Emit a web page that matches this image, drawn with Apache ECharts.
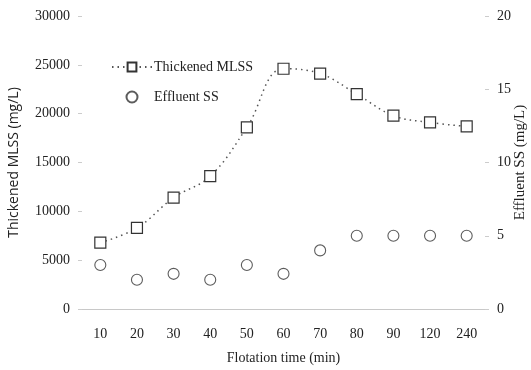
<!DOCTYPE html>
<html>
<head>
<meta charset="utf-8">
<script src="https://cdn.jsdelivr.net/npm/echarts@6/dist/echarts.min.js"></script>
<style>
  html, body { margin: 0; padding: 0; background: #fff; }
  #chart { width: 531px; height: 370px; }
</style>
</head>
<body>
<div id="chart"></div>
<script>
const times = ['10', '20', '30', '40', '50', '60', '70', '80', '90', '120', '240'];
const thickenedMLSS = [6800, 8300, 11400, 13600, 18600, 24600, 24100, 22000, 19800, 19100, 18700];
const effluentSS = [3, 2, 2.4, 2, 3, 2.4, 4, 5, 5, 5, 5];

const serif = 'Liberation Serif';
const chart = echarts.init(document.getElementById('chart'));
chart.setOption({
  backgroundColor: '#fff',
  animation: false,
  textStyle: { fontFamily: serif, color: '#222' },
  grid: { left: 82, right: 46, top: 16, bottom: 61, containLabel: false, outerBoundsMode: 'none' },
  legend: {
    orient: 'vertical', left: 106, top: 55, itemWidth: 40, itemHeight: 11, itemGap: 16,
    textStyle: { fontFamily: serif, fontSize: 14, color: '#222', padding: [0, 0, 0, -3] },
    data: ['Thickened MLSS', 'Effluent SS']
  },
  xAxis: {
    type: 'category', data: times,
    name: 'Flotation time (min)', nameLocation: 'middle', nameGap: 42,
    nameTextStyle: { fontFamily: serif, fontSize: 14, color: '#222' },
    axisLine: { lineStyle: { color: '#c8c8c8', width: 1 } },
    axisTick: { show: false },
    axisLabel: { fontFamily: serif, fontSize: 14, color: '#222', margin: 18 }
  },
  yAxis: [
    {
      type: 'value', min: 0, max: 30000, interval: 5000,
      name: 'Thickened MLSS (mg/L)', nameLocation: 'middle', nameGap: 61,
      nameMoveOverlap: false,
      nameTextStyle: { fontFamily: 'Open Sans', fontSize: 14, color: '#222' },
      axisLine: { show: false },
      axisTick: { show: true, length: 4, lineStyle: { color: '#ccc' } },
      splitLine: { show: false },
      axisLabel: { fontFamily: serif, fontSize: 14, color: '#222', margin: 12, formatter: v => String(v) }
    },
    {
      type: 'value', min: 0, max: 20, interval: 5,
      name: 'Effluent SS (mg/L)', nameLocation: 'middle', nameGap: 28, nameRotate: 90,
      nameMoveOverlap: false,
      nameTextStyle: { fontFamily: serif, fontSize: 15, color: '#222' },
      axisLine: { show: false },
      axisTick: { show: true, length: 4, lineStyle: { color: '#ccc' } },
      splitLine: { show: false },
      axisLabel: { fontFamily: serif, fontSize: 14, color: '#222', margin: 12 }
    }
  ],
  series: [
    {
      name: 'Thickened MLSS', type: 'line', yAxisIndex: 0, data: thickenedMLSS,
      smooth: 0.4, symbol: 'rect', symbolSize: 11,
      lineStyle: { color: '#555', width: 1.5, type: [1.5, 4] },
      itemStyle: { color: '#fff', borderColor: '#333', borderWidth: 1.2 }
    },
    {
      name: 'Effluent SS', type: 'scatter', yAxisIndex: 1, data: effluentSS,
      symbol: 'circle', symbolSize: 11,
      itemStyle: { color: '#fff', borderColor: '#333', borderWidth: 1.1 }
    }
  ]
});
</script>
</body>
</html>
